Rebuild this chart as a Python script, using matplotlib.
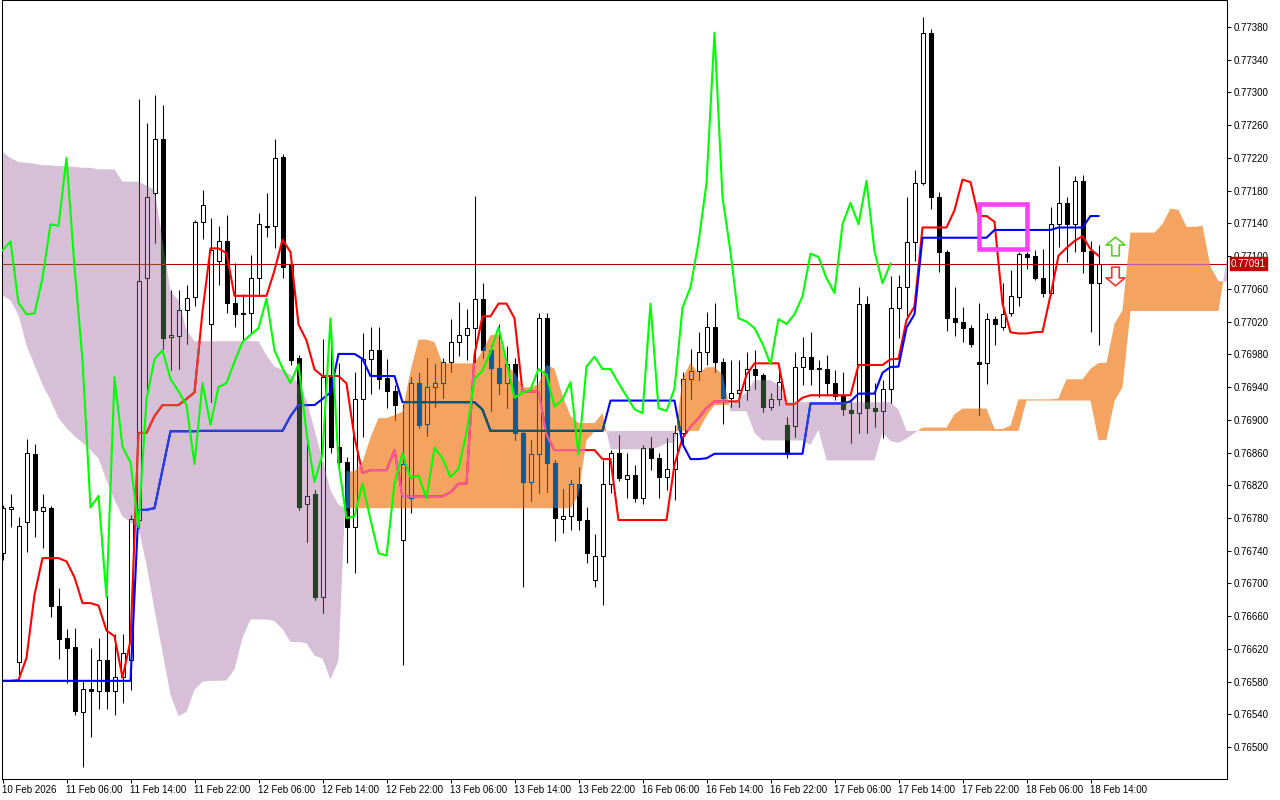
import matplotlib
matplotlib.use("Agg")
import matplotlib.pyplot as plt
import numpy as np
import pandas as pd
from matplotlib.colors import to_rgb, to_hex
from matplotlib.path import Path
from matplotlib.patches import Rectangle
from matplotlib.ticker import FormatStrFormatter

# H1 candles, 10 Feb 22:00 .. 18 Feb 15:00
opens = [
    0.76737, 0.76791, 0.76604, 0.76775, 0.76858, 0.76789, 0.76792, 0.76673, 0.76633, 0.76622,
    0.76543, 0.76571, 0.76569, 0.76606, 0.76569, 0.76586, 0.76606, 0.76778, 0.77073, 0.77177,
    0.77243, 0.77001, 0.77003, 0.77034, 0.77050, 0.77142, 0.77017, 0.77094, 0.77118, 0.77043,
    0.77029, 0.77030, 0.77073, 0.77136, 0.77137, 0.77221, 0.77089, 0.76975, 0.76797, 0.76809,
    0.76683, 0.76955, 0.76867, 0.76848, 0.76769, 0.76925, 0.76974, 0.76985, 0.76951, 0.76935,
    0.76753, 0.76804, 0.76945, 0.76895, 0.76940, 0.76945, 0.76971, 0.76995, 0.77004, 0.77012,
    0.77048, 0.76985, 0.76963, 0.76945, 0.76968, 0.76884, 0.76824, 0.76858, 0.77024, 0.76847,
    0.76779, 0.76783, 0.76822, 0.76778, 0.76704, 0.76734, 0.76822, 0.76859, 0.76828, 0.76832,
    0.76804, 0.76866, 0.76853, 0.76830, 0.76840, 0.76884, 0.76950, 0.76960, 0.76983, 0.77013,
    0.76971, 0.76927, 0.76933, 0.76937, 0.76962, 0.76955, 0.76916, 0.76925, 0.76894, 0.76892,
    0.76965, 0.76977, 0.76963, 0.76962, 0.76945, 0.76929, 0.76912, 0.76908, 0.77042, 0.76914,
    0.76911, 0.76938, 0.77037, 0.77062, 0.77117, 0.77189, 0.77373, 0.77172, 0.77105, 0.77024,
    0.77020, 0.77012, 0.76971, 0.76969, 0.77023, 0.77013, 0.77030, 0.77050, 0.77103, 0.77100,
    0.77073, 0.77055, 0.77139, 0.77165, 0.77139, 0.77192, 0.77106, 0.77067,
]
highs = [
    0.76796, 0.76809, 0.76781, 0.76876, 0.76870, 0.76809, 0.76795, 0.76694, 0.76644, 0.76646,
    0.76582, 0.76621, 0.76633, 0.76685, 0.76638, 0.76638, 0.76784, 0.77292, 0.77263, 0.77297,
    0.77285, 0.77059, 0.77059, 0.77065, 0.77144, 0.77181, 0.77147, 0.77137, 0.77150, 0.77092,
    0.77054, 0.77101, 0.77153, 0.77177, 0.77243, 0.77225, 0.77093, 0.76979, 0.76872, 0.76814,
    0.76999, 0.77004, 0.76969, 0.76855, 0.76958, 0.77006, 0.77013, 0.77013, 0.76974, 0.76943,
    0.76919, 0.76952, 0.76957, 0.76976, 0.76968, 0.76976, 0.77023, 0.77044, 0.77035, 0.77173,
    0.77067, 0.76991, 0.77017, 0.76990, 0.76976, 0.76888, 0.76875, 0.77030, 0.77030, 0.76851,
    0.76815, 0.76826, 0.76842, 0.76793, 0.76760, 0.76851, 0.76863, 0.76881, 0.76859, 0.76845,
    0.76869, 0.76879, 0.76859, 0.76878, 0.76894, 0.76958, 0.76986, 0.77007, 0.77032, 0.77043,
    0.76976, 0.76973, 0.76973, 0.76983, 0.76985, 0.76957, 0.76933, 0.76958, 0.76903, 0.76983,
    0.77001, 0.77007, 0.76973, 0.76979, 0.76961, 0.76958, 0.76922, 0.77062, 0.77051, 0.76945,
    0.76949, 0.77076, 0.77077, 0.77172, 0.77205, 0.77392, 0.77378, 0.77178, 0.77108, 0.77062,
    0.77038, 0.77016, 0.77043, 0.77030, 0.77027, 0.77067, 0.77083, 0.77105, 0.77105, 0.77108,
    0.77109, 0.77160, 0.77210, 0.77172, 0.77198, 0.77199, 0.77118, 0.77114,
]
lows = [
    0.76729, 0.76769, 0.76582, 0.76738, 0.76757, 0.76743, 0.76659, 0.76608, 0.76578, 0.76539,
    0.76476, 0.76512, 0.76547, 0.76547, 0.76539, 0.76554, 0.76570, 0.76768, 0.76933, 0.77116,
    0.76986, 0.76961, 0.76962, 0.76993, 0.77039, 0.77121, 0.76922, 0.77065, 0.77030, 0.77013,
    0.76997, 0.77006, 0.77051, 0.77123, 0.77110, 0.77073, 0.76967, 0.76790, 0.76751, 0.76680,
    0.76664, 0.76859, 0.76839, 0.76725, 0.76713, 0.76879, 0.76932, 0.76938, 0.76914, 0.76900,
    0.76600, 0.76786, 0.76890, 0.76880, 0.76916, 0.76927, 0.76958, 0.76978, 0.76973, 0.76971,
    0.76976, 0.76911, 0.76932, 0.76914, 0.76875, 0.76696, 0.76801, 0.76811, 0.76812, 0.76752,
    0.76762, 0.76765, 0.76765, 0.76725, 0.76696, 0.76674, 0.76811, 0.76825, 0.76804, 0.76800,
    0.76797, 0.76839, 0.76804, 0.76814, 0.76802, 0.76867, 0.76925, 0.76949, 0.76967, 0.76958,
    0.76895, 0.76916, 0.76916, 0.76924, 0.76938, 0.76910, 0.76912, 0.76918, 0.76853, 0.76879,
    0.76943, 0.76943, 0.76928, 0.76929, 0.76924, 0.76906, 0.76872, 0.76884, 0.76884, 0.76891,
    0.76878, 0.76920, 0.77000, 0.77027, 0.77094, 0.77187, 0.77158, 0.77081, 0.77009, 0.77002,
    0.76995, 0.76989, 0.76906, 0.76944, 0.76991, 0.77010, 0.77027, 0.77039, 0.77084, 0.77071,
    0.77050, 0.77052, 0.77111, 0.77093, 0.77105, 0.77079, 0.77007, 0.76991,
]
closes = [
    0.76792, 0.76793, 0.76770, 0.76859, 0.76790, 0.76793, 0.76672, 0.76632, 0.76621, 0.76544,
    0.76571, 0.76569, 0.76606, 0.76569, 0.76586, 0.76615, 0.76779, 0.77070, 0.77172, 0.77243,
    0.77000, 0.77004, 0.77034, 0.77049, 0.77142, 0.77162, 0.77107, 0.77118, 0.77043, 0.77029,
    0.77030, 0.77073, 0.77139, 0.77137, 0.77220, 0.77087, 0.76973, 0.76793, 0.76807, 0.76683,
    0.76952, 0.76867, 0.76848, 0.76769, 0.76925, 0.76974, 0.76985, 0.76950, 0.76935, 0.76918,
    0.76846, 0.76945, 0.76894, 0.76940, 0.76945, 0.76971, 0.76995, 0.77004, 0.77012, 0.77048,
    0.76985, 0.76963, 0.76945, 0.76968, 0.76884, 0.76824, 0.76858, 0.77024, 0.76847, 0.76780,
    0.76782, 0.76822, 0.76778, 0.76737, 0.76734, 0.76822, 0.76859, 0.76829, 0.76832, 0.76804,
    0.76866, 0.76853, 0.76830, 0.76840, 0.76884, 0.76950, 0.76960, 0.76983, 0.77013, 0.76971,
    0.76927, 0.76933, 0.76937, 0.76962, 0.76955, 0.76916, 0.76925, 0.76946, 0.76858, 0.76965,
    0.76977, 0.76962, 0.76962, 0.76945, 0.76929, 0.76913, 0.76908, 0.77042, 0.76914, 0.76911,
    0.76938, 0.77037, 0.77062, 0.77117, 0.77189, 0.77373, 0.77172, 0.77105, 0.77024, 0.77020,
    0.77012, 0.76993, 0.76968, 0.77023, 0.77017, 0.77029, 0.77051, 0.77103, 0.77099, 0.77073,
    0.77055, 0.77139, 0.77165, 0.77139, 0.77192, 0.77106, 0.77067, 0.77091,
]

# indicator values on the first bars come from history left of the chart
tenkan_head = [0.76581, 0.76581, 0.76582, 0.76609, 0.76686, 0.76731, 0.76731, 0.76731]
kijun_head = [0.76581] * 17 + [0.76790, 0.76790, 0.76792, 0.76839,
                               0.76886, 0.76886, 0.76886, 0.76886]
span_a_head = [
    0.77052, 0.77046, 0.77028, 0.76991, 0.76967, 0.76943, 0.76924, 0.76902, 0.76890, 0.76880,
    0.76872, 0.76863, 0.76853, 0.76826, 0.76802, 0.76782, 0.76775, 0.76768, 0.76723, 0.76668,
    0.76616, 0.76564, 0.76538, 0.76543, 0.76570, 0.76580,
]
span_b_head = (
    [0.77227, 0.77220, 0.77215, 0.77214, 0.77213, 0.77211, 0.77211, 0.77210, 0.77210, 0.77209,
     0.77208, 0.77208, 0.77206, 0.77206, 0.77206, 0.77191, 0.77191, 0.77191, 0.77186, 0.77181,
     0.77120, 0.77057, 0.77046, 0.77010]
    + [0.76996] * 9
    + [0.76979, 0.76965, 0.76961, 0.76955, 0.76943, 0.76924, 0.76888, 0.76851, 0.76814, 0.76796]
    + [0.76792] * 29
    + [0.76808, 0.76875, 0.76886, 0.76886, 0.76886]
)

label_bars = [0, 8, 16, 24, 32, 40, 48, 56, 64, 72, 80, 88, 96, 104, 112, 120, 128, 136]
label_texts = [
    "10 Feb 2026", "11 Feb 06:00", "11 Feb 14:00", "11 Feb 22:00", "12 Feb 06:00",
    "12 Feb 14:00", "12 Feb 22:00", "13 Feb 06:00", "13 Feb 14:00", "13 Feb 22:00",
    "16 Feb 06:00", "16 Feb 14:00", "16 Feb 22:00", "17 Feb 06:00", "17 Feb 14:00",
    "17 Feb 22:00", "18 Feb 06:00", "18 Feb 14:00",
]

signal_bar = 139
buy_arrow_price = 0.77112
sell_arrow_price = 0.77076
box_bars = (122, 128)
box_prices = (0.77109, 0.77164)

SHIFT = 26
ORANGE = "#F4A460"
THISTLE = "#D8BFD8"

df = pd.DataFrame({"open": opens, "high": highs, "low": lows, "close": closes})
n = len(df)
x = np.arange(n)
last_price = df["close"].iloc[-1]


def midpoint(period):
    return ((df["high"].rolling(period).max() + df["low"].rolling(period).min()) / 2).to_numpy()


tenkan = midpoint(9)
tenkan[: len(tenkan_head)] = tenkan_head
kijun = midpoint(26)
kijun[: len(kijun_head)] = kijun_head
span_a = np.concatenate([span_a_head, (tenkan + kijun) / 2])
span_b = np.concatenate([span_b_head, midpoint(52)[len(span_b_head) - SHIFT:]])
xc = np.arange(len(span_a))
chikou = df["close"].to_numpy()[SHIFT:]


def xor_on(color, cloud):
    a = np.round(np.array(to_rgb(color)) * 255).astype(int)
    b = np.round(np.array(to_rgb(cloud)) * 255).astype(int)
    return to_hex((a ^ b ^ 255) / 255)


fig = plt.figure(figsize=(12.8, 8), dpi=100)
ax = fig.add_axes([2 / 1280, 21 / 800, 1225 / 1280, 779 / 800])
ax.set_xlim((2 - 2.5) / 8, (1227 - 2.5) / 8)
ax.set_ylim(0.77413 - 779 * 1.222e-5, 0.77413)

orange = ax.fill_between(xc, span_a, span_b, where=span_a >= span_b, interpolate=True,
                         color=ORANGE, lw=0, zorder=1)
purple = ax.fill_between(xc, span_a, span_b, where=span_a < span_b, interpolate=True,
                         color=THISTLE, lw=0, zorder=1)

o = df["open"].to_numpy()
c = df["close"].to_numpy()
bottoms = np.minimum(o, c)
heights = np.abs(c - o)


def draw_layer(shade=None, z=2, clip=None):
    col = (lambda v: v) if shade is None else (lambda v: xor_on(v, shade))
    arts = [ax.vlines(x, df["low"], df["high"], colors=col("#000000"), lw=0.75, zorder=z)]
    body = [col("#FFFFFF") if cc >= oo else col("#000000") for oo, cc in zip(o, c)]
    bars = ax.bar(x, heights, width=0.5, bottom=bottoms, color=body,
                  edgecolor=col("#000000"), lw=0.75, zorder=z + 0.01)
    arts += list(bars.patches)
    arts.append(ax.axhline(last_price, color=col("#B00000"), lw=0.75, zorder=z + 0.02))
    arts += ax.plot(x, tenkan, color=col("#FF0000"), lw=1.5, zorder=z + 0.03)
    arts += ax.plot(x, kijun, color=col("#0000FF"), lw=1.5, zorder=z + 0.04)
    if clip is not None:
        for a in arts:
            a.set_clip_path(clip, ax.transData)


draw_layer()
for coll, shade, z in ((orange, ORANGE, 3), (purple, THISTLE, 3.5)):
    paths = coll.get_paths()
    if paths:
        draw_layer(shade, z, Path.make_compound_path(*paths))

ax.plot(np.arange(len(chikou)), chikou, color="#00FF00", lw=1.5, zorder=6)

ax.add_patch(Rectangle((box_bars[0], box_prices[0]), box_bars[1] - box_bars[0],
                       box_prices[1] - box_prices[0], fill=False, ec="#FF40FF", lw=3.3, zorder=7))

up = Path([(0, 1), (1, 0.15), (0.4, 0.15), (0.4, -1), (-0.4, -1), (-0.4, 0.15), (-1, 0.15), (0, 1)],
          closed=True)
down = Path([(vx, -vy) for vx, vy in up.vertices], closed=True)
ax.plot([signal_bar], [buy_arrow_price], marker=up, ms=13.5, mfc="white", mec="#5AD02A",
        mew=1.2, ls="none", zorder=8, clip_on=False)
ax.plot([signal_bar], [sell_arrow_price], marker=down, ms=13.5, mfc="white", mec="#FF3030",
        mew=1.2, ls="none", zorder=8, clip_on=False)

# axes like the terminal
for s in ax.spines.values():
    s.set_linewidth(0.75)
ax.yaxis.tick_right()
ax.set_yticks(np.arange(0.76500, 0.77381, 0.0004))
ax.yaxis.set_major_formatter(FormatStrFormatter("%.5f"))
ax.set_xticks(label_bars)
ax.set_xticklabels(label_texts)
for lbl in ax.get_xticklabels():
    lbl.set_horizontalalignment("left")
ax.tick_params(axis="both", direction="out", length=3, width=0.75, labelsize=7, pad=2)
ax.tick_params(axis="x", pad=1)
for lbl in ax.get_xticklabels() + ax.get_yticklabels():
    lbl.set_fontfamily("Liberation Sans")

ax.annotate(f"{last_price:.5f}", xy=(1, last_price), xycoords=ax.get_yaxis_transform(),
            xytext=(4, 0), textcoords="offset pixels", ha="left", va="center", color="white",
            fontsize=7, fontfamily="Liberation Sans", annotation_clip=False, zorder=10,
            bbox=dict(boxstyle="square,pad=0.15", fc="#C00000", ec="#C00000"))

fig.savefig("out.png", dpi=100)
